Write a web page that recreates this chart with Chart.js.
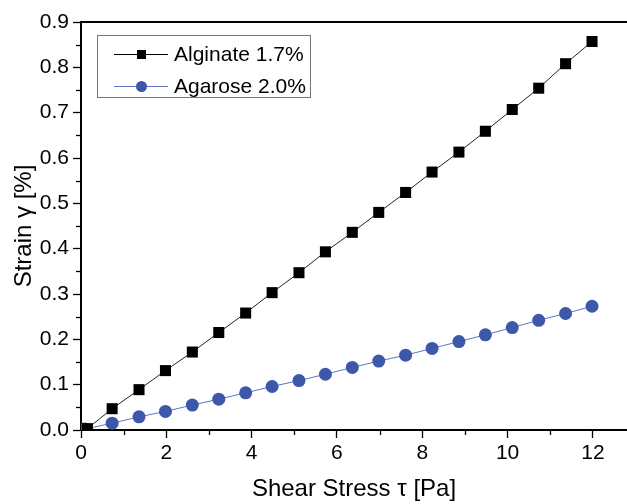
<!DOCTYPE html>
<html>
<head>
<meta charset="utf-8">
<script src="https://cdn.jsdelivr.net/npm/chart.js@4/dist/chart.umd.min.js"></script>
<style>
  html, body { margin: 0; padding: 0; background: #fff; }
  #wrap { width: 627px; height: 504px; }
</style>
</head>
<body>
<div id="wrap"><canvas id="strainChart" width="627" height="504"></canvas></div>
<script>
// Shear stress (Pa) for each measurement
const STRESS_ALGINATE = [0.15, 0.73, 1.36, 1.98, 2.61, 3.23, 3.86, 4.48, 5.11, 5.73, 6.36, 6.98, 7.61, 8.23, 8.86, 9.48, 10.11, 10.73, 11.36, 11.98];
const STRESS_AGAROSE = [0.09, 0.73, 1.36, 1.98, 2.61, 3.23, 3.86, 4.48, 5.11, 5.73, 6.36, 6.98, 7.61, 8.23, 8.86, 9.48, 10.11, 10.73, 11.36, 11.98];

// Strain (%)
const STRAIN_ALGINATE = [0.003, 0.047, 0.089, 0.131, 0.172, 0.215, 0.258, 0.303, 0.347, 0.393, 0.436, 0.480, 0.524, 0.569, 0.613, 0.659, 0.707, 0.754, 0.808, 0.857];
const STRAIN_AGAROSE = [0.002, 0.015, 0.029, 0.041, 0.055, 0.068, 0.082, 0.096, 0.109, 0.123, 0.138, 0.152, 0.165, 0.180, 0.195, 0.210, 0.226, 0.242, 0.257, 0.273];

const SERIES_NAMES = ['Alginate 1.7%', 'Agarose 2.0%'];
const X_TICKS = [0, 2, 4, 6, 8, 10, 12];

const FONT = 'Liberation Sans, Arial, Helvetica, sans-serif';
const BLUE = '#3d58a8';

function toPoints(xs, ys) {
    return xs.map((x, i) => ({ x: x, y: ys[i] }));
}

// minor ticks, top frame line and the boxed legend
const extrasPlugin = {
    id: 'extras',
    afterDraw(chart) {
        const ctx = chart.ctx;
        const xs = chart.scales.x;
        const ys = chart.scales.y;
        const area = chart.chartArea;
        ctx.save();
        ctx.strokeStyle = '#000';
        ctx.lineWidth = 1.3;
        for (let v = 1; v < 13; v += 2) {
            const px = Math.round(xs.getPixelForValue(v)) + 0.5;
            ctx.beginPath();
            ctx.moveTo(px, area.bottom);
            ctx.lineTo(px, area.bottom + 5);
            ctx.stroke();
        }
        for (let v = 0.05; v < 0.9; v += 0.1) {
            const py = Math.round(ys.getPixelForValue(v)) + 0.5;
            ctx.beginPath();
            ctx.moveTo(area.left - 5, py);
            ctx.lineTo(area.left, py);
            ctx.stroke();
        }
        // top frame
        ctx.lineWidth = 2;
        ctx.beginPath();
        ctx.moveTo(area.left, area.top);
        ctx.lineTo(chart.width, area.top);
        ctx.stroke();

        // legend
        ctx.lineWidth = 1;
        ctx.strokeStyle = '#777';
        ctx.strokeRect(97.5, 35.5, 213, 62);
        const rows = [
            { y: 54, line: '#000', fill: '#000', shape: 'square' },
            { y: 86, line: '#5f72c4', fill: BLUE, shape: 'circle' }
        ];
        ctx.font = '21px ' + FONT;
        ctx.textBaseline = 'middle';
        rows.forEach((r, i) => {
            ctx.strokeStyle = r.line;
            ctx.beginPath();
            ctx.moveTo(114, r.y + 0.5);
            ctx.lineTo(168, r.y + 0.5);
            ctx.stroke();
            ctx.fillStyle = r.fill;
            if (r.shape === 'square') {
                ctx.fillRect(137, r.y - 4, 9, 9);
            } else {
                ctx.beginPath();
                ctx.arc(141.5, r.y + 0.5, 5.5, 0, Math.PI * 2);
                ctx.fill();
            }
            ctx.fillStyle = '#000';
            ctx.fillText(SERIES_NAMES[i], 174, r.y + 1);
        });
        ctx.restore();
    }
};

new Chart(document.getElementById('strainChart'), {
    type: 'scatter',
    data: {
        datasets: [
            {
                label: SERIES_NAMES[0],
                data: toPoints(STRESS_ALGINATE, STRAIN_ALGINATE),
                showLine: true,
                borderColor: '#222',
                borderWidth: 1,
                pointStyle: 'rect',
                pointRadius: 7.8,
                pointBackgroundColor: '#000',
                pointBorderWidth: 0
            },
            {
                label: SERIES_NAMES[1],
                data: toPoints(STRESS_AGAROSE, STRAIN_AGAROSE),
                showLine: true,
                borderColor: '#5f72c4',
                borderWidth: 1,
                pointStyle: 'circle',
                pointRadius: 6.5,
                pointBackgroundColor: BLUE,
                pointBorderWidth: 0
            }
        ]
    },
    options: {
        responsive: false,
        animation: false,
        devicePixelRatio: 1,
        layout: { autoPadding: false, padding: { top: 22, right: 0, left: 0, bottom: 0 } },
        plugins: {
            legend: { display: false },
            tooltip: { enabled: false }
        },
        scales: {
            x: {
                type: 'linear',
                min: 0,
                max: 12.8,
                afterFit(scale) {
                    scale.height = 74;
                    scale.paddingLeft = 0;
                    scale.paddingRight = 0;
                },
                afterBuildTicks(scale) { scale.ticks = X_TICKS.map(v => ({ value: v })); },
                border: { color: '#000', width: 2 },
                grid: { drawOnChartArea: false, drawTicks: true, tickLength: 8, tickWidth: 1.3, tickColor: '#000' },
                ticks: { color: '#000', font: { family: FONT, size: 21 }, padding: 3, maxRotation: 0 },
                title: {
                    display: true,
                    text: 'Shear Stress τ [Pa]',
                    color: '#000',
                    font: { family: FONT, size: 24 },
                    padding: { top: 0, bottom: 0 }
                }
            },
            y: {
                min: 0,
                max: 0.9,
                afterFit(scale) { scale.width = 81; },
                border: { color: '#000', width: 2 },
                grid: { drawOnChartArea: false, drawTicks: true, tickLength: 8, tickWidth: 1.3, tickColor: '#000' },
                ticks: {
                    stepSize: 0.1,
                    color: '#000',
                    font: { family: FONT, size: 21 },
                    padding: 4,
                    callback: v => v.toFixed(1)
                },
                title: {
                    display: true,
                    text: 'Strain γ [%]',
                    color: '#000',
                    font: { family: FONT, size: 24 },
                    padding: { top: 10, bottom: 0 }
                }
            }
        }
    },
    plugins: [extrasPlugin]
});
</script>
</body>
</html>
